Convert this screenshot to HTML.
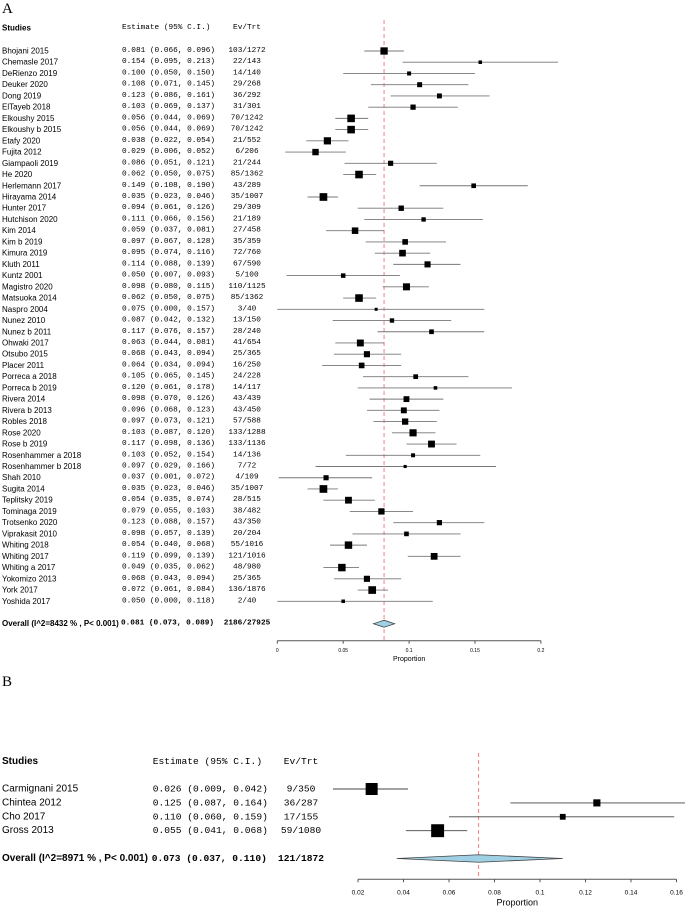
<!DOCTYPE html>
<html><head><meta charset="utf-8"><style>
html,body{margin:0;padding:0;background:#fff;}
svg{display:block;}
text{fill:#000;}
.sans{font-family:"Liberation Sans",Arial,sans-serif;}
.mono{font-family:"Liberation Mono","DejaVu Sans Mono",monospace;}
.serif{font-family:"Liberation Serif",serif;}
</style></head><body>
<svg id="chart" width="685" height="909" viewBox="0 0 685 909" xmlns="http://www.w3.org/2000/svg"></svg>
<script>
// ---- Panel A data ----
const studiesA = ["Bhojani 2015","Chemasle 2017","DeRienzo 2019","Deuker 2020","Dong 2019","ElTayeb 2018","Elkoushy 2015","Elkoushy b 2015","Etafy 2020","Fujita 2012","Giampaoli 2019","He 2020","Herlemann 2017","Hirayama 2014","Hunter 2017","Hutchison 2020","Kim 2014","Kim b 2019","Kimura 2019","Kluth 2011","Kuntz 2001","Magistro 2020","Matsuoka 2014","Naspro 2004","Nunez 2010","Nunez b 2011","Ohwaki 2017","Otsubo 2015","Placer 2011","Porreca a 2018","Porreca b 2019","Rivera 2014","Rivera b 2013","Robles 2018","Rose 2020","Rose b 2019","Rosenhammer a 2018","Rosenhammer b 2018","Shah 2010","Sugita 2014","Teplitsky 2019","Tominaga 2019","Trotsenko 2020","Viprakasit 2010","Whiting 2018","Whiting 2017","Whiting a 2017","Yokomizo 2013","York 2017","Yoshida 2017"];
const estA = [0.081,0.154,0.100,0.108,0.123,0.103,0.056,0.056,0.038,0.029,0.086,0.062,0.149,0.035,0.094,0.111,0.059,0.097,0.095,0.114,0.050,0.098,0.062,0.075,0.087,0.117,0.063,0.068,0.064,0.105,0.120,0.098,0.096,0.097,0.103,0.117,0.103,0.097,0.037,0.035,0.054,0.079,0.123,0.098,0.054,0.119,0.049,0.068,0.072,0.050];
const loA = [0.066,0.095,0.050,0.071,0.086,0.069,0.044,0.044,0.022,0.006,0.051,0.050,0.108,0.023,0.061,0.066,0.037,0.067,0.074,0.088,0.007,0.080,0.050,0.000,0.042,0.076,0.044,0.043,0.034,0.065,0.061,0.070,0.068,0.073,0.087,0.098,0.052,0.029,0.001,0.023,0.035,0.055,0.088,0.057,0.040,0.099,0.035,0.043,0.061,0.000];
const hiA = [0.096,0.213,0.150,0.145,0.161,0.137,0.069,0.069,0.054,0.052,0.121,0.075,0.190,0.046,0.126,0.156,0.081,0.128,0.116,0.139,0.093,0.115,0.075,0.157,0.132,0.157,0.081,0.094,0.094,0.145,0.178,0.126,0.123,0.121,0.120,0.136,0.154,0.166,0.072,0.046,0.074,0.103,0.157,0.139,0.068,0.139,0.062,0.094,0.084,0.118];
const evA = ["103/1272","22/143","14/140","29/268","36/292","31/301","70/1242","70/1242","21/552","6/206","21/244","85/1362","43/289","35/1007","29/309","21/189","27/458","35/359","72/760","67/590","5/100","110/1125","85/1362","3/40","13/150","28/240","41/654","25/365","16/250","24/228","14/117","43/439","43/450","57/588","133/1288","133/1136","14/136","7/72","4/109","35/1007","28/515","38/482","43/350","20/204","55/1016","121/1016","48/980","25/365","136/1876","2/40"];
const overallA = {est:0.081, lo:0.073, hi:0.089, ev:"2186/27925", label:"Overall (I^2=8432 % , P< 0.001)"};
const ticksA = [0, 0.05, 0.1, 0.15, 0.2];
const tickLabelsA = ["0","0.05","0.1","0.15","0.2"];

// ---- Panel B data ----
const studiesB = ["Carmignani 2015","Chintea 2012","Cho 2017","Gross 2013"];
const estB = [0.026,0.125,0.110,0.055];
const loB = [0.009,0.087,0.060,0.041];
const hiB = [0.042,0.164,0.159,0.068];
const evB = ["9/350","36/287","17/155","59/1080"];
const overallB = {est:0.073, lo:0.037, hi:0.110, ev:"121/1872", label:"Overall (I^2=8971 % , P< 0.001)"};
const ticksB = [0.02,0.04,0.06,0.08,0.1,0.12,0.14,0.16];
const tickLabelsB = ["0.02","0.04","0.06","0.08","0.1","0.12","0.14","0.16"];

const NS = "http://www.w3.org/2000/svg";
const svg = document.getElementById("chart");
function mk(tag, attrs, parent){
  const e = document.createElementNS(NS, tag);
  for (const k in attrs) e.setAttribute(k, attrs[k]);
  (parent||svg).appendChild(e);
  return e;
}
function txt(str, attrs, parent){
  const t = mk("text", attrs, parent);
  t.setAttribute("xml:space","preserve");
  t.textContent = str;
  return t;
}
function fmt(e,l,h){ return e.toFixed(3)+" ("+l.toFixed(3)+", "+h.toFixed(3)+")"; }

function panel(cfg){
  const g = mk("g", {});
  
  
  const x = v => cfg.x0 + (v - cfg.d0) * cfg.scale;
  const y = i => cfg.row0 + i * cfg.rowH;
  const L = txt(cfg.letter, {x:2, y:cfg.letterY, "class":"serif", "font-size":cfg.letterSize}, g);
  
  
  const h1 = txt("Studies", {x:2, y:cfg.headY, "class":"sans", "font-size":cfg.nameSize, "font-weight":"bold", "dominant-baseline":"central"}, g);
  
  
  const h2 = txt("Estimate (95% C.I.)", {x:cfg.estX, y:cfg.headY, "class":"mono", "font-size":cfg.monoSize, "dominant-baseline":"central"}, g);
  
  
  const h3 = txt("Ev/Trt", {x:cfg.evX, y:cfg.headY, "class":"mono", "font-size":cfg.monoSize, "text-anchor":"middle", "dominant-baseline":"central"}, g);
  
  
  // reference line (drawn under marks)
  const o = cfg.overall, oy = cfg.overallY;
  const rl = mk("line", {x1:x(o.est), x2:x(o.est), y1:cfg.refTop, y2:cfg.axisY, stroke:"#f28080", "stroke-width":1, "stroke-dasharray":"4,3"}, g);
  
  
  cfg.names.forEach((n,i)=>{
    const yy = y(i);
    const t1 = txt(n, {x:2, y:yy, "class":"sans", "font-size":cfg.nameSize, fill:"#111", "dominant-baseline":"central"}, g);
    
    
    const t2 = txt(fmt(cfg.est[i],cfg.lo[i],cfg.hi[i]), {x:cfg.estX, y:yy, "class":"mono", "font-size":cfg.monoSize, fill:"#111", "dominant-baseline":"central"}, g);
    
    
    const t3 = txt(cfg.ev[i], {x:cfg.evX, y:yy, "class":"mono", "font-size":cfg.monoSize, fill:"#111", "text-anchor":"middle", "dominant-baseline":"central"}, g);
    
    
    const ln = mk("line", {x1:x(cfg.lo[i]), x2:x(cfg.hi[i]), y1:yy, y2:yy, stroke:cfg.lineCol, "stroke-width":0.9}, g);
    
    
    const se = (cfg.hi[i]-cfg.lo[i])/3.92;
    const w = 1/(se*se + cfg.tau2);
    let s = cfg.sizeFn(w);
    s = Math.max(cfg.minS, Math.min(cfg.maxS, s));
    const r = mk("rect", {x:x(cfg.est[i])-s/2, y:yy-s/2, width:s, height:s, fill:"#000"}, g);
    
    
  });
  const ot1 = txt(o.label, {x:2, y:oy, "class":"sans", "font-size":cfg.nameSize, "font-weight":"bold", "dominant-baseline":"central"}, g);
  
  
  const ot2 = txt(fmt(o.est,o.lo,o.hi), {x:cfg.estX-1, y:oy, "class":"mono", "font-size":cfg.monoSize, "font-weight":"bold", "dominant-baseline":"central"}, g);
  
  
  const ot3 = txt(o.ev, {x:cfg.evX, y:oy, "class":"mono", "font-size":cfg.monoSize, "font-weight":"bold", "text-anchor":"middle", "dominant-baseline":"central"}, g);
  
  
  const dh = cfg.diamondH/2;
  const dm = mk("polygon", {points:[x(o.lo)+","+oy, x(o.est)+","+(oy-dh), x(o.hi)+","+oy, x(o.est)+","+(oy+dh)].join(" "), fill:"#9fd0e4", stroke:"#444", "stroke-width":0.8}, g);
  
  
  const ax = mk("line", {x1:x(cfg.ticks[0]), x2:x(cfg.ticks[cfg.ticks.length-1]), y1:cfg.axisY, y2:cfg.axisY, stroke:"#555", "stroke-width":1}, g);
  
  
  cfg.ticks.forEach((tv,i)=>{
    const tk = mk("line", {x1:x(tv), x2:x(tv), y1:cfg.axisY, y2:cfg.axisY+3, stroke:"#555", "stroke-width":1}, g);
    
    
    const tl = txt(cfg.tickLabels[i], {x:x(tv), y:cfg.tickLabelY, "class":"sans", "font-size":cfg.tickSize, fill:"#222", "text-anchor":"middle", "dominant-baseline":"central"}, g);
    
    
  });
  const xt = txt("Proportion", {x:(x(cfg.ticks[0])+x(cfg.ticks[cfg.ticks.length-1]))/2, y:cfg.propY, "class":"sans", "font-size":cfg.propSize, fill:"#222", "text-anchor":"middle", "dominant-baseline":"central"}, g);
  
  
}

panel({
  name:"panel-a", letter:"A", letterY:13, letterSize:15,
  names:studiesA, est:estA, lo:loA, hi:hiA, ev:evA, overall:overallA,
  ticks:ticksA, tickLabels:tickLabelsA,
  x0:277.3, d0:0, scale:1318, row0:51, rowH:11.23, headY:28,
  estX:122, evX:247, nameSize:8, monoSize:7.75, lineCol:"#777",
  overallY:623.7, diamondH:7, axisY:640.7, tickLabelY:651, tickSize:5, propY:659.5, propSize:7,
  refTop:20, tau2:0.0002, sizeFn:w=>Math.sqrt(w)*0.1175, minS:3, maxS:9
});
panel({
  name:"panel-b", letter:"B", letterY:686, letterSize:15,
  names:studiesB, est:estB, lo:loB, hi:hiB, ev:evB, overall:overallB,
  ticks:ticksB, tickLabels:tickLabelsB,
  x0:358, d0:0.02, scale:2275, row0:789, rowH:13.9, headY:761.7,
  estX:152.7, evX:301, nameSize:10, monoSize:9.6, lineCol:"#444",
  overallY:858.5, diamondH:7.5, axisY:879.3, tickLabelY:893, tickSize:6.5, propY:902.5, propSize:9,
  refTop:753, tau2:0.0001, sizeFn:w=>Math.sqrt(w)*0.157, minS:3, maxS:13
});
</script>
</body></html>
